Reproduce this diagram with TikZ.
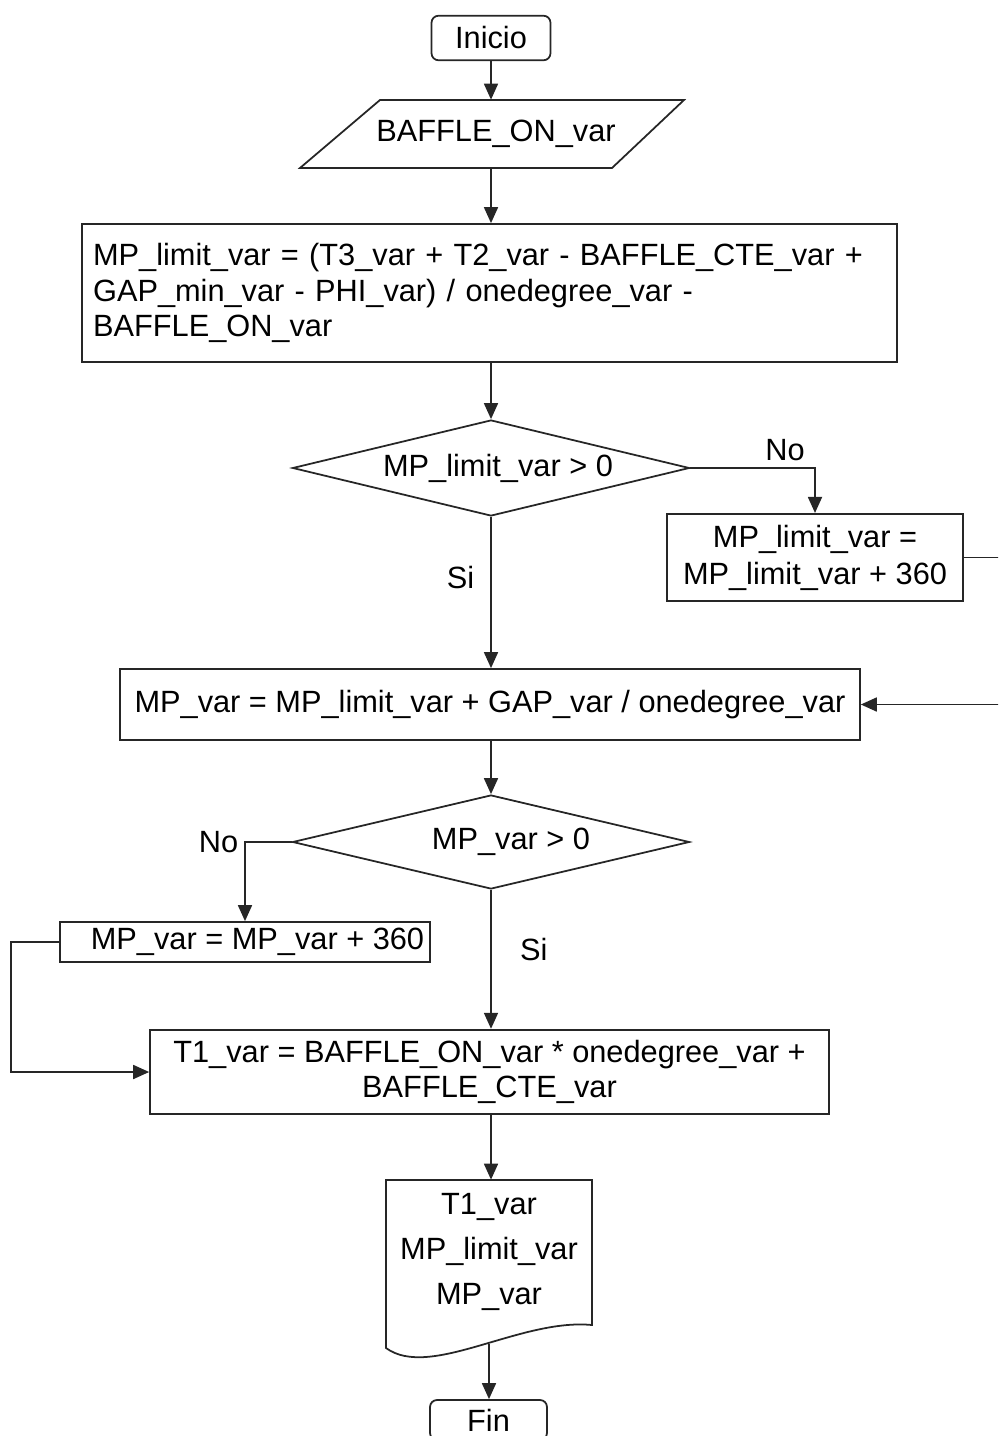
\documentclass[tikz,border=0pt]{standalone}
\usepackage{fontspec}
\setmainfont{Liberation Sans}
\usetikzlibrary{arrows.meta,shapes.geometric}
\begin{document}
\begin{tikzpicture}[x=0.02cm,y=-0.02cm,
  linea/.style={draw=black!85,line width=1pt},
  flecha/.style={linea,-{Triangle[length=3.2mm,width=2.8mm]}},
  texto/.style={font=\fontsize{17.5}{20}\selectfont},
  caja/.style={texto,linea,rectangle,inner sep=0.22cm},
  terminal/.style={caja,rounded corners=4pt},
  decision/.style={texto,linea,diamond,aspect=4.1,inner sep=0pt,minimum width=7.94cm,minimum height=1.92cm}]
\clip (0,0) rectangle (998,1436);
\node[terminal,minimum width=2.38cm,minimum height=0.8cm] (inicio) at (491,38) {Inicio};
\draw[linea] (300,168) -- (380,100) -- (684,100) -- (612,168) -- cycle;
\node[texto,minimum height=1.36cm,inner sep=0pt] (entrada) at (496,134) {BAFFLE\_ON\_var};
\node[caja,minimum width=16.3cm,minimum height=2.76cm,text width=15.86cm,align=left] (op1) at (489.5,293)
  {MP\_limit\_var = (T3\_var + T2\_var - BAFFLE\_CTE\_var +\\GAP\_min\_var - PHI\_var) / onedegree\_var -\\BAFFLE\_ON\_var};
\node[decision] (dec1) at (491,468) {\hspace{0.28cm}MP\_limit\_var > 0};
\node[caja,minimum width=5.92cm,minimum height=1.66cm,align=center,font=\fontsize{17.5}{21}\selectfont] (op2) at (815,557.5) {MP\_limit\_var =\\MP\_limit\_var + 360};
\node[caja,minimum width=14.8cm,minimum height=1.42cm] (op3) at (490,704.5) {MP\_var = MP\_limit\_var + GAP\_var / onedegree\_var};
\node[decision,minimum height=1.88cm] (dec2) at (491,842) {\hspace{0.8cm}MP\_var > 0};
\node[caja,minimum width=7.4cm,minimum height=0.8cm,inner sep=0pt] (op4) at (245,942) {\hspace{0.5cm}MP\_var = MP\_var + 360};
\node[caja,minimum width=13.58cm,minimum height=1.64cm,align=center,font=\fontsize{17.5}{19.5}\selectfont] (op5) at (489.5,1072) {T1\_var = BAFFLE\_ON\_var * onedegree\_var +\\BAFFLE\_CTE\_var};
\draw[linea] (592,1325) .. controls (520,1318) and (430,1380) .. (386,1348) -- (386,1180) -- (592,1180) -- cycle;
\node[texto,minimum width=4.12cm,minimum height=2.88cm,inner sep=0pt,align=center,font=\fontsize{17.5}{25.5}\selectfont] (salida) at (489,1252) {T1\_var\\MP\_limit\_var\\MP\_var};
\coordinate (docfondo) at (489,1344);
\node[terminal,minimum width=2.34cm,minimum height=0.8cm,inner ysep=0pt] (fin) at (488.5,1420) {Fin};
\draw[flecha] (inicio) -- (entrada.north -| inicio);
\draw[flecha] (entrada.south -| inicio) -- (op1.north -| inicio);
\draw[flecha] (op1.south -| dec1) -- (dec1);
\draw[flecha] (dec1.east) -| node[texto,pos=0.38,above] {No} (op2.north);
\draw[flecha] (dec1.south) -- node[texto,pos=0.4,left=0.2cm] {Si} (op3.north -| dec1);
\draw[flecha] (op2.east) -- ++(52,0) |- (op3.east);
\draw[flecha] (op3.south -| dec2) -- (dec2.north);
\draw[flecha] (dec2.west) -| node[texto,pos=0.5,left] {No} (op4.north);
\draw[flecha] (dec2.south) -- node[texto,pos=0.43,right=0.45cm] {Si} (op5.north -| dec2);
\draw[flecha] (op4.west) -- ++(-48,0) |- (op5.west);
\draw[flecha] (op5.south -| dec2) -- (salida.north -| dec2);
\draw[flecha] (docfondo) -- (fin.north -| docfondo);
\end{tikzpicture}
\end{document}
